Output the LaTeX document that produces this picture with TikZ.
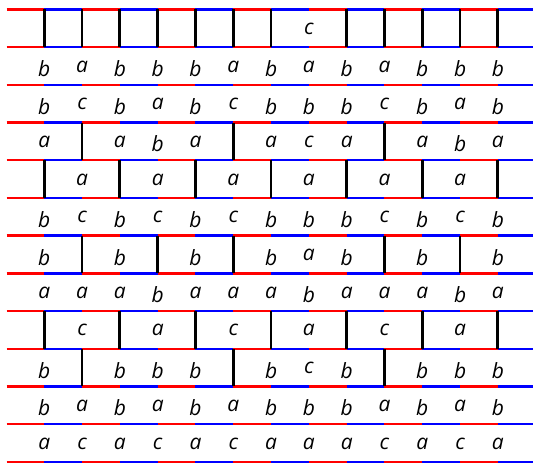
\documentclass[tikz,border=0pt]{standalone}
\usepackage{fontspec}
\setmainfont{Open Sans}
\usetikzlibrary{positioning}
\definecolor{segRed}{HTML}{FF0000}
\definecolor{segBlue}{HTML}{0000FF}

\begin{document}
\begin{tikzpicture}[x=37.8pt, y=37.7pt,
      seg/.style={line width=2.4pt},
      wall/.style={line width=2.8pt, black},
      lt/.style={inner sep=0pt, anchor=north, font=\fontsize{21}{25}\selectfont\itshape}]
    \useasboundingbox (-0.172,0.252) rectangle (13.929,-12.029);
    \clip (-0.172,0.252) rectangle (13.929,-12.029);
    % horizontal lines
    \foreach \i in {0,...,12}
      \foreach \s in {0,...,13} {
        \ifodd\s \def\sc{segBlue}\else\def\sc{segRed}\fi
        \draw[seg, \sc] (\s, -\i) -- (\s+1, -\i);
      }
    % rows: | is a wall, anything else a letter
    \foreach \row [count=\i from 0] in {
        {|,|,|,|,|,|,|,c,|,|,|,|,|},
        {b,a,b,b,b,a,b,a,b,a,b,b,b},
        {b,c,b,a,b,c,b,b,b,c,b,a,b},
        {a,|,a,b,a,|,a,c,a,|,a,b,a},
        {|,a,|,a,|,a,|,a,|,a,|,a,|},
        {b,c,b,c,b,c,b,b,b,c,b,c,b},
        {b,|,b,|,b,|,b,a,b,|,b,|,b},
        {a,a,a,b,a,a,a,b,a,a,a,b,a},
        {|,c,|,a,|,c,|,a,|,c,|,a,|},
        {b,|,b,b,b,|,b,c,b,|,b,b,b},
        {b,a,b,a,b,a,b,b,b,a,b,a,b},
        {a,c,a,c,a,c,a,a,a,c,a,c,a}} {
      \foreach \v [count=\j from 1] in \row {
        \if\v|
          \draw[wall] (\j, -\i) -- (\j, -\i-1);
        \else
          \node[lt] (r\i-\j) at (\j, -\i-0.35) {\v};
        \fi
      }
    }
  \end{tikzpicture}
\end{document}
